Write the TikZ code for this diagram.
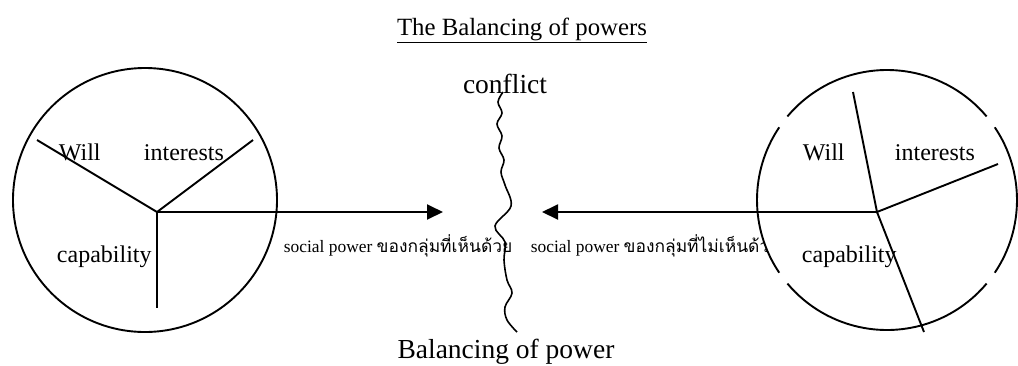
\documentclass[tikz,border=0pt]{standalone}
\usepackage{fontspec}
\setmainfont{Liberation Serif}
\newfontfamily\thaifont[Script=Thai]{Loma}
\usetikzlibrary{arrows.meta}
\begin{document}
\begin{tikzpicture}[x=1pt,y=-1pt,line width=1.9pt,
  lbl/.style={inner sep=0pt,anchor=base west,font=\fontsize{24}{28}\selectfont},
  big/.style={inner sep=0pt,anchor=base,font=\fontsize{27.5}{32}\selectfont},
  small/.style={inner sep=0pt,anchor=base west,font=\fontsize{17.4}{20}\selectfont},
  spoke/.style={line width=1.9pt},
  pow/.style={line width=1.9pt,-{Triangle[length=16pt,width=15pt]}}]
\useasboundingbox (0,0) rectangle (1018,365);
% title
\node[inner sep=0pt,anchor=base,font=\fontsize{24.8}{30}\selectfont] (title) at (522,35) {\underline{The Balancing of powers}};
\node[big] (conflict) at (505,93) {conflict};
\node[big] (bal) at (506,358) {Balancing of power};
% social power labels
\node[small] (sp1) at (283,252) {social power {\thaifont ของกลุ่มที่เห็นด้วย}};
\node[small] (sp2) at (530,252) {social power {\thaifont ของกลุ่มที่ไม่เห็นด้วย}};
% left circle
\coordinate (lc) at (145,200);
\draw (lc) circle[radius=132];
\coordinate (lh) at (157,212);
\coordinate (la) at (37,140);
\coordinate (lb) at (253,140);
\coordinate (ld) at (157,308);
\draw[spoke] (la) -- (lh) -- (lb);
\draw[spoke] (lh) -- (ld);
\node[lbl] (lwill) at (58,160) {Will};
\node[lbl] (lint) at (143,160) {interests};
\node[lbl] (lcap) at (56,262) {capability};
% right circle (broken)
\coordinate (rc) at (887,200);
\fill[white] (rc) circle[radius=130];
\draw (rc) ++(40:130) arc[start angle=40,end angle=140,radius=130];
\draw (rc) ++(146:130) arc[start angle=146,end angle=214,radius=130];
\draw (rc) ++(220:130) arc[start angle=220,end angle=320,radius=130];
\draw (rc) ++(326:130) arc[start angle=326,end angle=394,radius=130];
\coordinate (rh) at (877,212);
\coordinate (ra) at (853,92);
\coordinate (rb) at (998,164);
\coordinate (rd) at (924,332);
\draw[spoke] (ra) -- (rh) -- (rb);
\draw[spoke] (rh) -- (rd);
\node[lbl] (rwill) at (802,160) {Will};
\node[lbl] (rint) at (894,160) {interests};
\node[lbl] (rcap) at (801,262) {capability};
% arrows
\coordinate (lt) at (443,212);
\coordinate (rt) at (542,212);
\draw[pow] (lh) -- (lt);
\draw[pow] (rh) -- (rt);
% conflict line
\draw[line width=1.6pt] plot[smooth,tension=0.6] coordinates {(503,92) (498,102) (502,113) (497,124) (502,136) (499,148) (504,160) (501,172) (505,185) (511,206) (495,226) (505,242) (504,260) (507,280) (512,293) (505,307) (507,320) (517,332)};
\end{tikzpicture}
\end{document}
